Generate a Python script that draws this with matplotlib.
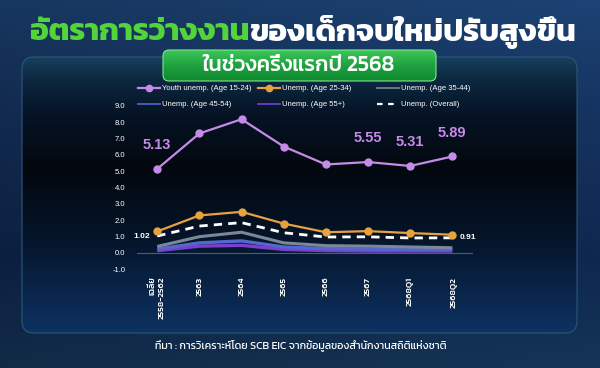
import matplotlib
matplotlib.use('Agg')
import matplotlib.pyplot as plt
import numpy as np
from matplotlib import font_manager
from matplotlib.ft2font import FT2Font
from matplotlib.patches import FancyBboxPatch
from matplotlib.lines import Line2D

# ---------------- data ----------------
categories = ["เฉลี่ย\n2558-2562", "2563", "2564", "2565", "2566", "2567", "2568Q1", "2568Q2"]
youth = [5.13, 7.30, 8.17, 6.50, 5.40, 5.55, 5.31, 5.89]
age25_34 = [1.30, 2.28, 2.50, 1.78, 1.25, 1.32, 1.20, 1.10]
overall = [1.02, 1.63, 1.84, 1.22, 0.96, 0.97, 0.90, 0.91]
age35_44 = [0.38, 0.98, 1.25, 0.60, 0.43, 0.40, 0.35, 0.30]
age45_54 = [0.22, 0.60, 0.72, 0.35, 0.25, 0.22, 0.20, 0.20]
age55 = [0.12, 0.40, 0.45, 0.20, 0.13, 0.10, 0.10, 0.10]
youth_label_idx = [0, 5, 6, 7]
yticks = [-1.0, 0.0, 1.0, 2.0, 3.0, 4.0, 5.0, 6.0, 7.0, 8.0, 9.0]

title_green = "อัตราการว่างงาน"
title_white = "ของเด็กจบใหม่ปรับสูงขึ้น"
subtitle = "ในช่วงครึ่งแรกปี 2568"
source = "ที่มา : การวิเคราะห์โดย SCB EIC จากข้อมูลของสำนักงานสถิติแห่งชาติ"

# ---------------- fonts ----------------
def find_thai_fonts():
    found = []
    for f in font_manager.fontManager.ttflist:
        try:
            cm = FT2Font(f.fname).get_charmap()
        except Exception:
            continue
        if 0x0E01 in cm and 0x0E48 in cm:
            if f.name not in found:
                found.append(f.name)
    return found

thai_fonts = find_thai_fonts()

def pick(prefs):
    for p in prefs:
        if p in thai_fonts:
            return p
    return thai_fonts[0] if thai_fonts else 'DejaVu Sans'

thai_head = pick(['Kanit', 'Prompt', 'Mitr', 'Bai Jamjuree', 'IBM Plex Sans Thai', 'Noto Sans Thai'])
thai_body = pick(['Kanit', 'Prompt', 'Bai Jamjuree', 'IBM Plex Sans Thai', 'Noto Sans Thai'])
plt.rcParams['font.family'] = ['Liberation Sans', 'DejaVu Sans']
F_HEAD = [thai_head, 'Liberation Sans', 'DejaVu Sans']
F_BODY = [thai_body, 'Liberation Sans', 'DejaVu Sans']

# ---------------- figure & background ----------------
W, H = 600, 368
fig = plt.figure(figsize=(6, 3.68), dpi=100)
bg = fig.add_axes([0, 0, 1, 1], zorder=-10)
bg.axis('off')

def hexrgb(h):
    h = h.lstrip('#')
    return np.array([int(h[i:i + 2], 16) / 255 for i in (0, 2, 4)])

def vgrad(stops, n):
    ys = np.array([s[0] for s in stops], float)
    cols = np.array([hexrgb(s[1]) for s in stops])
    t = np.linspace(0, 1, n)
    return np.stack([np.interp(t, ys, cols[:, c]) for c in range(3)], axis=1)

outer = vgrad([(0, '#1a3d6a'), (0.3, '#142f58'), (0.7, '#0d2448'), (1.0, '#13304f')], H)
outer_img = np.repeat(outer[:, None, :], W, axis=1)
xs = np.linspace(0, 1, W)
outer_img = np.clip(outer_img * (0.9 + 0.2 * xs[None, :, None]), 0, 1)
bg.imshow(outer_img, extent=(0, W, H, 0), aspect='auto', zorder=0)

panel = FancyBboxPatch((22, 57), 555, 276, boxstyle='round,pad=0,rounding_size=12',
                       transform=bg.transData, facecolor='none',
                       edgecolor='#2a5878', lw=0.8, zorder=3)
bg.add_patch(panel)
pan = vgrad([(0, '#16405e'), (0.08, '#0c2840'), (0.2, '#061426'), (0.4, '#03080f'),
             (0.65, '#051428'), (1.0, '#0d3262')], 276)
pan_img = np.repeat(pan[:, None, :], 555, axis=1)
im = bg.imshow(pan_img, extent=(22, 577, 333, 57), aspect='auto', zorder=2)
im.set_clip_path(panel)

gbox = FancyBboxPatch((163, 50), 273, 31, boxstyle='round,pad=0,rounding_size=6',
                      transform=bg.transData, facecolor='none',
                      edgecolor='#7ee88a', lw=0.8, zorder=5)
bg.add_patch(gbox)
gg = vgrad([(0, '#3cc55a'), (0.5, '#1ea13f'), (1.0, '#0f8a30')], 31)
gimg = np.repeat(gg[:, None, :], 273, axis=1)
gim = bg.imshow(gimg, extent=(163, 436, 81, 50), aspect='auto', zorder=4)
gim.set_clip_path(gbox)
bg.set_xlim(0, W)
bg.set_ylim(H, 0)

# titles
fig.text(249 / W, 1 - 32 / H, title_green, ha='right', va='center', color='#52d43a',
         fontsize=22.6, fontweight='bold', family=F_HEAD)
fig.text(249 / W, 1 - 32 / H, title_white, ha='left', va='center', color='white',
         fontsize=22.6, fontweight='bold', family=F_HEAD)
fig.text(299 / W, 1 - 65.5 / H, subtitle, ha='center', va='center', color='white',
         fontsize=15.5, fontweight='medium', family=F_HEAD)
fig.text(155 / W, 1 - 345 / H, source, ha='left', va='center', color='white',
         fontsize=7.7, family=F_BODY)

# ---------------- chart ----------------
ax = fig.add_axes([137 / W, 1 - 269 / H, 336 / W, 163.3 / H])
ax.set_facecolor('none')
x = np.arange(len(categories))

c_youth = '#c68be9'
c_2534 = '#e9a13f'
c_3544 = '#7b8899'
c_4554 = '#5566cc'
c_55 = '#7b3fcf'

ax.axhline(0, color='#3e6182', lw=0.8, zorder=1)
ax.plot(x, age55, color=c_55, lw=2.4, zorder=3, solid_capstyle='butt')
ax.plot(x, age45_54, color=c_4554, lw=2.4, zorder=3, solid_capstyle='butt')
ax.plot(x, age35_44, color=c_3544, lw=2.2, zorder=3, solid_capstyle='butt')
ax.plot(x, overall, color='white', lw=2.0, ls=(0, (3, 2.2)), zorder=4)
ax.plot(x, age25_34, color=c_2534, lw=1.6, marker='o', ms=5, zorder=5)
ax.plot(x, youth, color=c_youth, lw=1.6, marker='o', ms=5, zorder=5)

for i in youth_label_idx:
    ax.annotate(f"{youth[i]:.2f}", (x[i], youth[i]), xytext=(0, 17),
                textcoords='offset points', ha='center', va='center',
                color=c_youth, fontsize=10.5, fontweight='bold')
ax.annotate(f"{overall[0]:.2f}", (x[0], overall[0]), xytext=(-5, 0),
            textcoords='offset points', ha='right', va='center',
            color='white', fontsize=6, fontweight='bold')
ax.annotate(f"{overall[-1]:.2f}", (x[-1], overall[-1]), xytext=(5, 0),
            textcoords='offset points', ha='left', va='center',
            color='white', fontsize=6, fontweight='bold')

ax.set_xlim(-0.48, 7.49)
ax.set_ylim(-1, 9)
ax.set_yticks(yticks)
ax.set_yticklabels([f"{v:.1f}" for v in yticks])
ax.set_xticks(x)
ax.set_xticklabels(categories, rotation=90, multialignment='right', family=F_BODY,
                   fontweight='medium')
ax.tick_params(axis='y', length=0, pad=8.5, labelsize=5.5, labelcolor='white')
ax.tick_params(axis='x', length=0, pad=5.5, labelsize=6.5, labelcolor='white')
for s in ax.spines.values():
    s.set_visible(False)

# ---------------- legend (three columns) ----------------
h_youth = Line2D([], [], color=c_youth, lw=1.6, marker='o', ms=4.5)
h_2534 = Line2D([], [], color=c_2534, lw=1.6, marker='o', ms=4.5)
h_3544 = Line2D([], [], color=c_3544, lw=1.2)
h_4554 = Line2D([], [], color=c_4554, lw=1.2)
h_55 = Line2D([], [], color=c_55, lw=1.2)
h_all = Line2D([], [], color='white', lw=1.6, ls=(0, (2.5, 2.5)))
cols = [
    (138, [h_youth, h_4554], ["Youth unemp. (Age 15-24)", "Unemp. (Age 45-54)"]),
    (258, [h_2534, h_55], ["Unemp. (Age 25-34)", "Unemp. (Age 55+)"]),
    (377, [h_3544, h_all], ["Unemp. (Age 35-44)", "Unemp. (Overall)"]),
]
for xpx, hs, ls in cols:
    fig.legend(hs, ls, loc='upper left', bbox_to_anchor=(xpx / W, 1 - 85 / H),
               frameon=False, fontsize=5.5, handlelength=2.9, handletextpad=0.25,
               labelspacing=1.15, borderpad=0, borderaxespad=0, labelcolor='white')

fig.savefig('out.png', dpi=100)
